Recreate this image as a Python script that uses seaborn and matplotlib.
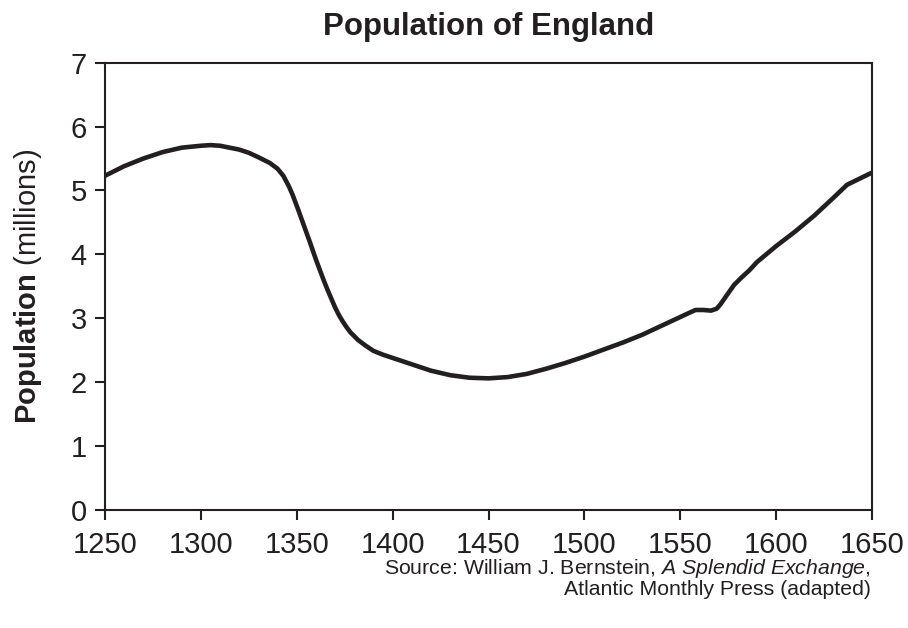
import matplotlib
matplotlib.use("Agg")
import matplotlib.pyplot as plt
import seaborn as sns
import pandas as pd

# population of England, millions
years = [1250, 1260, 1270, 1280, 1290, 1300, 1305, 1310, 1320, 1325,
         1330, 1336, 1340, 1343, 1346, 1348, 1351, 1354, 1357, 1360,
         1364, 1366, 1368, 1370, 1372, 1374, 1376, 1378, 1382, 1386,
         1390, 1395, 1400, 1410, 1420, 1430, 1440, 1450, 1460, 1470,
         1480, 1490, 1500, 1510, 1520, 1530, 1540, 1550, 1555, 1558,
         1562, 1566, 1569, 1571, 1574, 1578, 1582, 1586, 1590, 1600,
         1610, 1620, 1630, 1637, 1650]
population = [5.23, 5.38, 5.50, 5.60, 5.67, 5.70, 5.71, 5.70, 5.64, 5.59,
              5.52, 5.43, 5.34, 5.23, 5.06, 4.92, 4.68, 4.43, 4.18, 3.92,
              3.60, 3.45, 3.31, 3.17, 3.05, 2.95, 2.86, 2.78, 2.66, 2.57,
              2.49, 2.43, 2.38, 2.28, 2.18, 2.11, 2.07, 2.06, 2.08, 2.13,
              2.21, 2.30, 2.40, 2.51, 2.62, 2.74, 2.88, 3.02, 3.09, 3.13,
              3.13, 3.12, 3.15, 3.22, 3.35, 3.52, 3.64, 3.75, 3.88, 4.13,
              4.36, 4.61, 4.89, 5.09, 5.28]

x_ticks = [1250, 1300, 1350, 1400, 1450, 1500, 1550, 1600, 1650]
y_ticks = [0, 1, 2, 3, 4, 5, 6, 7]

df = pd.DataFrame({"year": years, "population": population})

sns.set_theme(style="ticks")
plt.rcParams["font.family"] = ["Liberation Sans", "DejaVu Sans"]
plt.rcParams["mathtext.fontset"] = "custom"
plt.rcParams["mathtext.rm"] = "Liberation Sans"
plt.rcParams["mathtext.bf"] = "Liberation Sans:bold"
plt.rcParams["mathtext.it"] = "Liberation Sans:italic"

ink = "#231f20"

fig = plt.figure(figsize=(9.08, 6.28), dpi=100)
ax = fig.add_axes([0.1156, 0.1879, 0.8448, 0.7123])

sns.lineplot(data=df, x="year", y="population", color=ink, linewidth=3.3, ax=ax)

ax.set_xlim(1250, 1650)
ax.set_ylim(0, 7)
ax.set_xticks(x_ticks)
ax.set_yticks(y_ticks)
ax.tick_params(axis="both", direction="out", length=7, width=1.5,
               color=ink, labelcolor=ink, labelsize=21)
ax.tick_params(axis="x", pad=8)
ax.tick_params(axis="y", pad=6)
for s in ax.spines.values():
    s.set_visible(True)
    s.set_linewidth(1.5)
    s.set_color(ink)

ax.set_xlabel("")
ax.set_ylabel(r"$\mathbf{Population}$ (millions)", fontsize=21, color=ink, labelpad=19)
ax.set_title("Population of England", fontsize=22.5, fontweight="bold", color=ink, pad=20)

fig.text(0.959, 0.094, r"Source: William J. Bernstein, $\mathit{A\ Splendid\ Exchange}$,",
         ha="right", va="center", fontsize=15.3, color=ink)
fig.text(0.959, 0.061, "Atlantic Monthly Press (adapted)",
         ha="right", va="center", fontsize=15.3, color=ink)

plt.savefig("out.png", dpi=100)
plt.close(fig)
